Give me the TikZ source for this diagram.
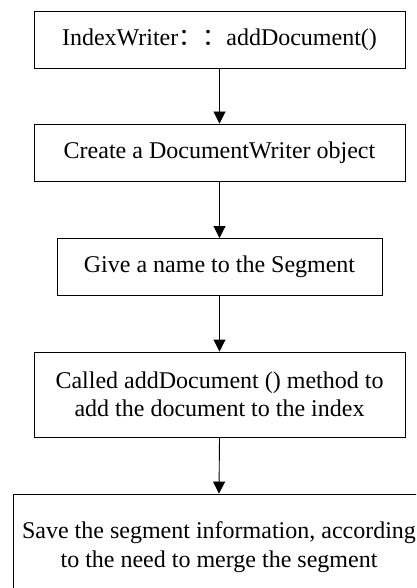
\documentclass[tikz,border=0pt]{standalone}
\usepackage{fontspec}
\setmainfont{Liberation Serif}
\newfontfamily\cjk{Noto Sans CJK SC}
\usetikzlibrary{arrows.meta}
\tikzset{
  stepbox/.style={draw, line width=0.9pt, inner sep=0pt, font=\fontsize{24}{28.5}\selectfont, align=center},
  flow/.style={draw, line width=0.9pt, -{Triangle[width=12pt,length=12pt]}}
}
\begin{document}
\begin{tikzpicture}[x=1pt, y=-1pt]
  \useasboundingbox (0,0) rectangle (416,588);
  \clip (0,0) rectangle (416,588);
  \node[stepbox, minimum width=371pt, minimum height=57pt] (b1) at (219.5,39.5)
    {IndexWriter{\cjk ：：}addDocument()};
  \node[stepbox, minimum width=371pt, minimum height=57pt] (b2) at (219.5,152.5)
    {Create a DocumentWriter object};
  \node[stepbox, minimum width=325pt, minimum height=57pt] (b3) at (219.5,267)
    {Give a name to the Segment};
  \node[stepbox, minimum width=371pt, minimum height=85pt] (b4) at (219.5,394.5)
    {Called addDocument () method to\\add the document to the index};
  \node[stepbox, minimum width=412pt, minimum height=106pt] (b5) at (219,547)
    {Save the segment information, according\\to the need to merge the segment};
  \draw[flow] (b1.south) -- (b2.north);
  \draw[flow] (b2.south) -- (b3.north);
  \draw[flow] (b3.south) -- (b4.north);
  \draw[flow] (b4.south) -- (b5.north);
\end{tikzpicture}
\end{document}
